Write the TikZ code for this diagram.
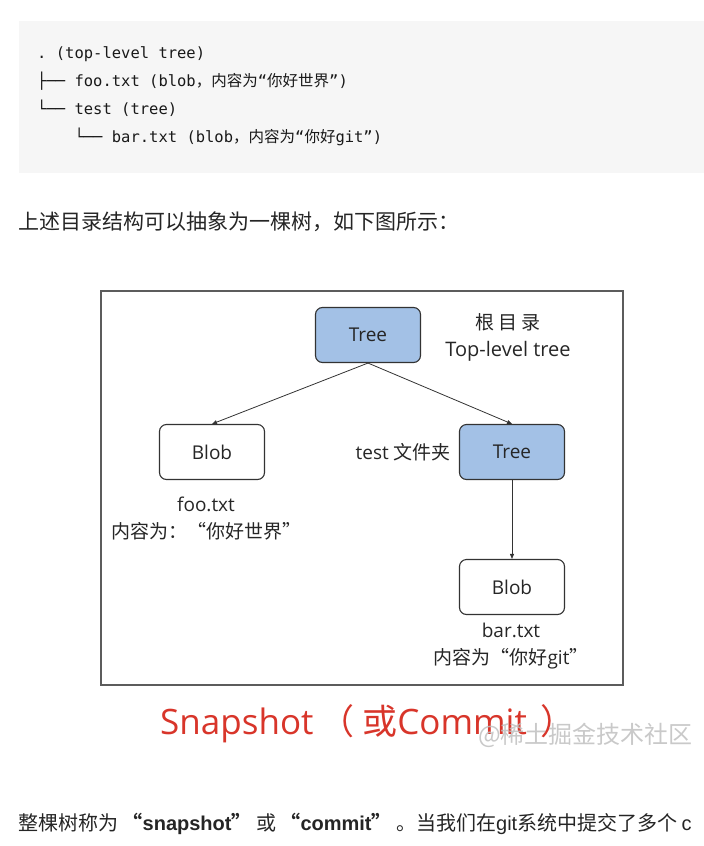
\documentclass[tikz,border=0pt]{standalone}
\usepackage{fontspec}
\usetikzlibrary{arrows.meta,positioning}
\setmainfont{Open Sans}
\setmonofont{DejaVu Sans Mono}
\newfontfamily\cjk{Noto Sans CJK SC}
\newfontfamily\bodylatin{Liberation Sans}
\newcommand{\zh}[1]{{\cjk #1}}
\newcommand{\lat}[1]{{\bodylatin #1}}
\definecolor{treeblue}{HTML}{A3C1E6}
\definecolor{framegray}{HTML}{5C5C5C}
\definecolor{snapred}{HTML}{D8352A}
\definecolor{codebg}{HTML}{F6F6F6}
\definecolor{bodytext}{HTML}{252525}

\begin{document}
\begin{tikzpicture}[x=1pt,y=-1pt,
    objbox/.style={draw=black!80,line width=1.1pt,rounded corners=7pt,minimum width=105pt,minimum height=55pt,inner sep=0pt,font=\fontsize{19}{22}\selectfont,text=black!85},
    treebox/.style={objbox,fill=treeblue},
    blobbox/.style={objbox,fill=white},
    caption/.style={font=\fontsize{19}{27}\selectfont,text=black!85,align=center,inner sep=0pt},
    link/.style={line width=0.8pt,black!80,-{Triangle[length=5pt,width=4pt]}},
    codeline/.style={anchor=base west,inner sep=0pt,font=\ttfamily\fontsize{15.5}{18}\selectfont,text=black!90},
    bodyline/.style={anchor=base west,inner sep=0pt,text=bodytext}]
    \useasboundingbox (0,0) rectangle (704,846);
    \clip (0,0) rectangle (704,846);
    \fill[codebg] (19,21) rectangle (704,173);
    \node[codeline] (line1) at (37,58) {. (top-level tree)};
    \node[codeline] (line2) at (37,86) {├── foo.txt (blob\zh{，内容为}“\zh{你好世界}”)};
    \node[codeline] (line3) at (37,114) {└── test (tree)};
    \node[codeline] (line4) at (37,142) {\ \ \ \ └── bar.txt (blob\zh{，内容为}“\zh{你好}git”)};
    \node[bodyline,font=\cjk\fontsize{21}{24}\selectfont] (intro) at (18,229) {上述目录结构可以抽象为一棵树，如下图所示：};

    \draw[framegray,line width=1.5pt] (101,291) rectangle (623,685);
    \node[treebox] (root) at (368,335) {Tree};
    \node[blobbox] (foo) at (212,452) {Blob};
    \node[treebox] (test) at (512,452) {Tree};
    \node[blobbox] (bar) at (512,587) {Blob};
    \node[caption] (rootlbl) at (508,337) {\zh{根 目 录}\\{\fontsize{20}{27}\selectfont Top-level tree}};
    \node[caption,anchor=east] (testlbl) at (451,452) {test \zh{文件夹}};
    \node[caption] (foolbl) at (206,519) {foo.txt\\\zh{内容为：“你好世界”}};
    \node[caption] (barlbl) at (511,646) {bar.txt\\\zh{内容为“你好}git\zh{”}};
    \draw[link] (root.south) -- (foo.north);
    \draw[link] (root.south) -- (test.north);
    \draw[link] (test.south) -- (bar.north);

    \node[bodyline,text=snapred,font=\fontsize{35}{38}\selectfont] (snap) at (160,734) {Snapshot\hspace{6pt}\zh{（ 或}Commit\hspace{14pt}\zh{）}};
    \node[bodyline,text=gray!50,opacity=0.85,font=\cjk\fontsize{24}{26}\selectfont] (mark) at (478,743) {@稀土掘金技术社区};
    \node[bodyline,font=\cjk\fontsize{20}{24}\selectfont] (outro) at (18,830) {整棵树称为 {\bfseries “\lat{snapshot}”} 或 {\bfseries “\lat{commit}”} 。当我们在\lat{git}系统中提交了多个 \lat{c}};
\end{tikzpicture}
\end{document}
